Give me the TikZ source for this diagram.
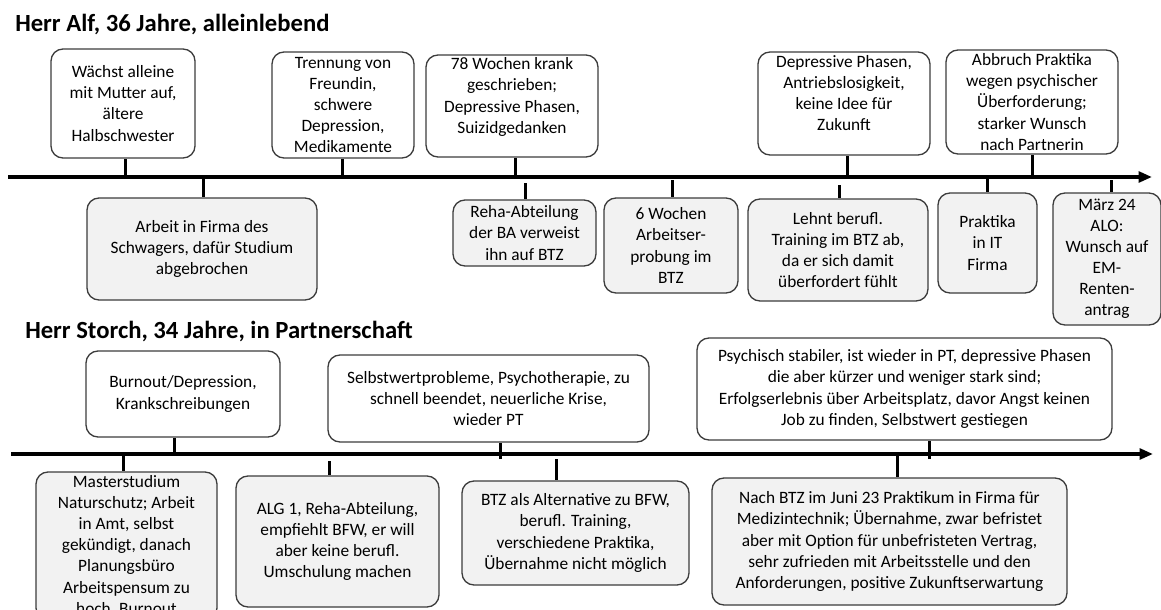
\documentclass[tikz,border=0pt]{standalone}
\usepackage{fontspec}
\setmainfont{Carlito}
\usepackage{xcolor}
\definecolor{boxline}{RGB}{60,60,60}
\definecolor{boxgray}{RGB}{242,242,242}
\usepackage{tikz}
\usetikzlibrary{arrows.meta}

\tikzset{
  evtop/.style 2 args={draw=boxline, line width=1pt, rounded corners=9pt, fill=white,
    align=center, inner sep=0pt, minimum width=#1*0.75pt, minimum height=#2*0.75pt,
    font=\fontsize{13}{15.8}\selectfont},
  evbot/.style 2 args={evtop={#1}{#2}, fill=boxgray},
  timeline/.style={line width=3pt, -{Triangle[length=10pt,width=8pt]}},
  tick/.style={line width=2.25pt},
  heading/.style={font=\bfseries\fontsize{18.5}{21}\selectfont, anchor=west, inner sep=0pt}
}

\begin{document}
\begin{tikzpicture}[x=0.75pt, y=-0.75pt]
                \useasboundingbox (0,0) rectangle (1161,610);

                % Herr Alf
                \node [heading] (alf) at (15,25) {Herr Alf, 36 Jahre, alleinlebend};
                \coordinate (l1a) at (8,177);
                \coordinate (l1b) at (1152,177);
                \draw [timeline] (l1a) -- (l1b);

                \node [evtop={144}{109}] (a1) at (123,103.5) {Wächst alleine\\mit Mutter auf,\\ältere\\Halbschwester};
                \node [evtop={142}{106}] (a2) at (343,105) {Trennung von\\Freundin,\\schwere\\Depression,\\Medikamente};
                \node [evtop={172}{102}] (a3) at (512,106) {78 Wochen krank\\geschrieben;\\Depressive Phasen,\\Suizidgedanken\\ \mbox{}};
                \node [evtop={172}{103}] (a4) at (844,103.5) {Depressive Phasen,\\Antriebslosigkeit,\\keine Idee für\\Zukunft\\ \mbox{}};
                \node [evtop={172}{104}] (a5) at (1032,102) {Abbruch Praktika\\wegen psychischer\\Überforderung;\\starker Wunsch\\nach Partnerin};

                \node [evbot={230}{102}] (b1) at (202,249) {Arbeit in Firma des\\Schwagers, dafür Studium\\abgebrochen};
                \node [evbot={143}{66}] (b2) at (524.5,233) {Reha-Abteilung\\der BA verweist\\ihn auf BTZ};
                \node [evbot={134}{95}] (b3) at (671,245.5) {6 Wochen\\Arbeitser-\\probung im\\BTZ};
                \node [evbot={180}{102}] (b4) at (838,250) {Lehnt berufl.\\Training im BTZ ab,\\da er sich damit\\überfordert fühlt};
                \node [evbot={99}{100}] (b5) at (987.5,243) {Praktika\\in IT\\Firma};
                \node [evbot={108}{132}] (b6) at (1107,259) {März 24\\ALO:\\Wunsch auf\\EM-\\Renten-\\antrag};

                \coordinate (ta1) at (125,177);
                \coordinate (ta2) at (342,177);
                \coordinate (ta3) at (515,177);
                \coordinate (ta4) at (847,177);
                \coordinate (ta5) at (1032,177);
                \coordinate (tb1) at (203,177);
                \coordinate (tb2) at (525,183);
                \coordinate (tb3) at (672,180);
                \coordinate (tb4) at (839,185);
                \coordinate (tb5) at (987,177);
                \coordinate (tb6) at (1111,180);

                % Herr Storch
                \node [heading] (storch) at (25,332) {Herr Storch, 34 Jahre, in Partnerschaft};
                \coordinate (l2a) at (11,454);
                \coordinate (l2b) at (1153,454);
                \draw [timeline] (l2a) -- (l2b);

                \node [evtop={194}{86}] (c1) at (183,394) {Burnout/Depression,\\Krankschreibungen};
                \node [evtop={321}{87}] (c2) at (488.5,398.5) {Selbstwertprobleme, Psychotherapie, zu\\schnell beendet, neuerliche Krise,\\wieder PT};
                \node [evtop={415}{102}] (c3) at (904.5,389) {Psychisch stabiler, ist wieder in PT, depressive Phasen\\die aber kürzer und weniger stark sind;\\Erfolgserlebnis über Arbeitsplatz, davor Angst keinen\\Job zu finden, Selbstwert gestiegen};

                \node [evbot={181}{148}] (d1) at (126.5,546) {Masterstudium\\Naturschutz; Arbeit\\in Amt, selbst\\gekündigt, danach\\Planungsbüro\\Arbeitspensum zu\\hoch, Burnout};
                \node [evbot={203}{131}] (d2) at (337.5,541.5) {ALG 1, Reha-Abteilung,\\empfiehlt BFW, er will\\aber keine berufl.\\Umschulung machen};
                \node [evbot={227}{104}] (d3) at (575.5,533) {BTZ als Alternative zu BFW,\\berufl. Training,\\verschiedene Praktika,\\Übernahme nicht möglich};
                \node [evbot={355}{127}] (d4) at (889.5,541.5) {Nach BTZ im Juni 23 Praktikum in Firma für\\Medizintechnik; Übernahme, zwar befristet\\aber mit Option für unbefristeten Vertrag,\\sehr zufrieden mit Arbeitsstelle und den\\Anforderungen, positive Zukunftserwartung};

                \coordinate (tc1) at (174,454);
                \coordinate (tc2) at (500,459);
                \coordinate (tc3) at (929,459);
                \coordinate (td1) at (123,454);
                \coordinate (td2) at (329,461);
                \coordinate (td3) at (556,459);
                \coordinate (td4) at (897,454);

                % ticks
                \foreach \n in {a1,a2,a3,a4,a5,c1,c2,c3}
                    \draw [tick] (t\n) -- (\n.south -| t\n);
                \foreach \n in {b1,b2,b3,b4,b5,b6,d1,d2,d3,d4}
                    \draw [tick] (t\n) -- (\n.north -| t\n);
            \end{tikzpicture}
\end{document}
